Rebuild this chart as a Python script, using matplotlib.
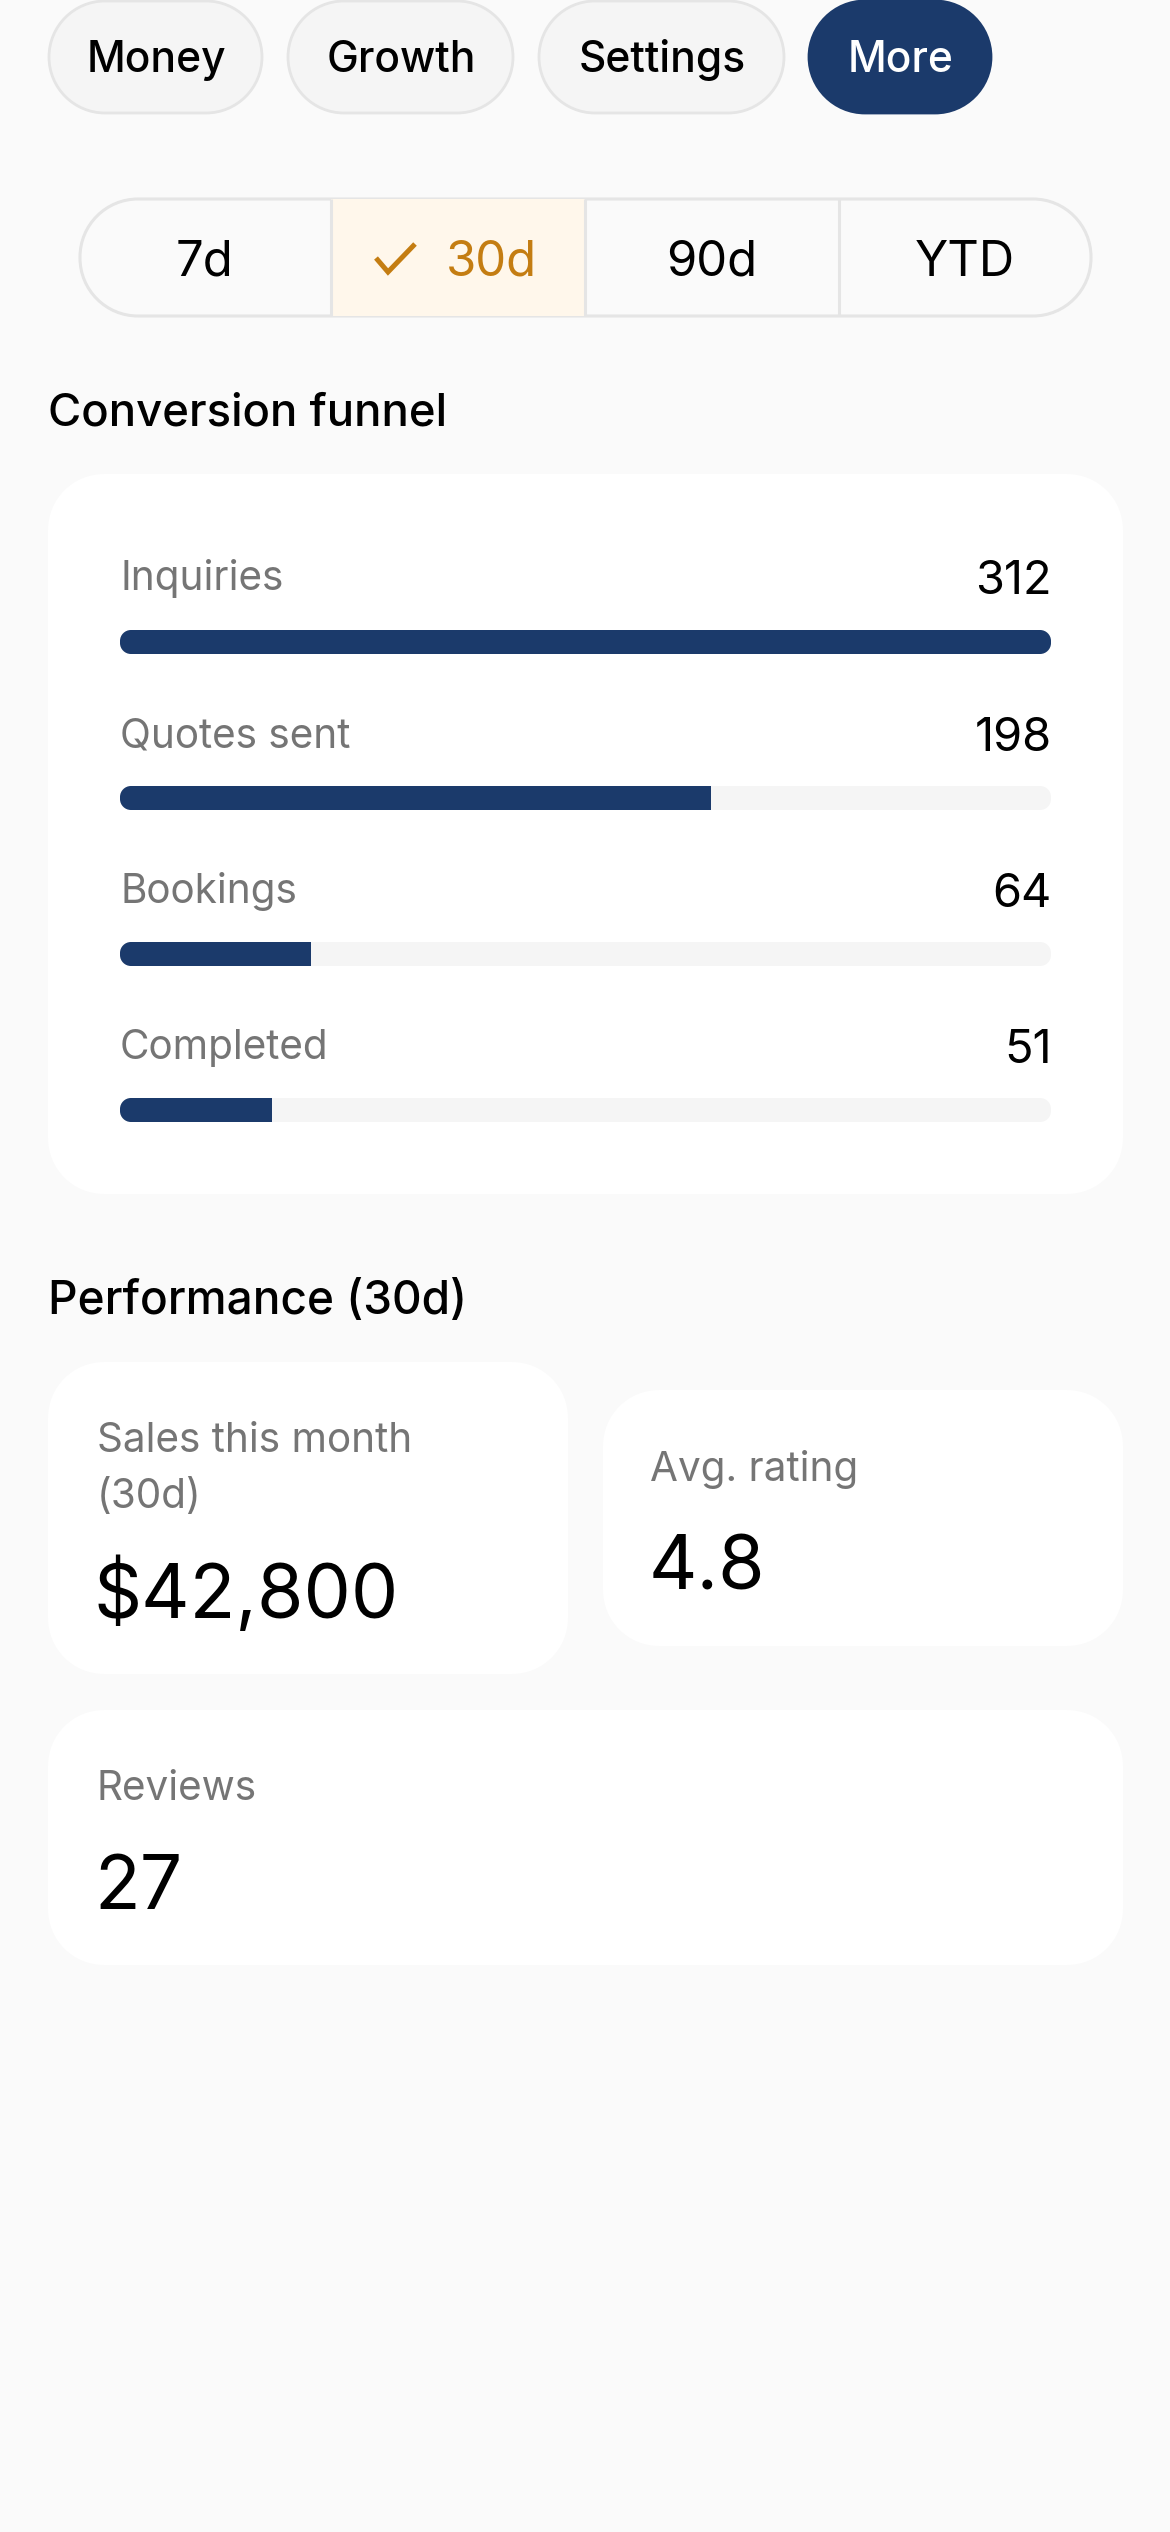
import matplotlib
matplotlib.use("Agg")
import matplotlib.pyplot as plt
from matplotlib.patches import PathPatch
from matplotlib.path import Path

# Data
tab_labels = ["Money", "Growth", "Settings", "More"]
range_labels = ["7d", "30d", "90d", "YTD"]
funnel_labels = ["Inquiries", "Quotes sent", "Bookings", "Completed"]
funnel_values = [312, 198, 64, 51]
sales_label = ["Sales this month", "(30d)"]
sales_value = "$42,800"
rating_label = "Avg. rating"
rating_value = "4.8"
reviews_label = "Reviews"
reviews_value = "27"

NAVY = "#1B3A6B"
BG = "#FAFAFA"
BORDER = "#E5E5E5"
TRACK = "#F5F5F5"
GREY = "#757575"
AMBER = "#C47D12"

plt.rcParams["font.family"] = ["Inter", "DejaVu Sans"]

fig = plt.figure(figsize=(11.7, 25.32), dpi=100, facecolor=BG)
ax = fig.add_axes([0, 0, 1, 1])
ax.set_xlim(0, 1170)
ax.set_ylim(2532, 0)
ax.axis("off")


def pt(px):
    return px * 0.72


def box(x0, y0, x1, y1, r, fc, ec="none", lw=0, z=1):
    # rounded rect with proper circular corners
    k = r * 0.5523
    verts = [(x0 + r, y0), (x1 - r, y0),
             (x1 - r + k, y0), (x1, y0 + r - k), (x1, y0 + r),
             (x1, y1 - r),
             (x1, y1 - r + k), (x1 - r + k, y1), (x1 - r, y1),
             (x0 + r, y1),
             (x0 + r - k, y1), (x0, y1 - r + k), (x0, y1 - r),
             (x0, y0 + r),
             (x0, y0 + r - k), (x0 + r - k, y0), (x0 + r, y0),
             (x0 + r, y0)]
    codes = [Path.MOVETO, Path.LINETO] + [Path.CURVE4] * 3 + [Path.LINETO] + [Path.CURVE4] * 3 \
        + [Path.LINETO] + [Path.CURVE4] * 3 + [Path.LINETO] + [Path.CURVE4] * 3 + [Path.CLOSEPOLY]
    p = PathPatch(Path(verts, codes), fc=fc, ec=ec, lw=lw, zorder=z)
    ax.add_patch(p)
    return p


def label(x, y, s, px, color="black", ha="left", weight="normal"):
    return ax.text(x, y, s, fontsize=pt(px), color=color, ha=ha, va="baseline",
                   fontweight=weight, zorder=5)


# top tabs
tab_x = [(49, 262), (288, 513), (539, 784), (809, 991)]
for s, (x0, x1) in zip(tab_labels, tab_x):
    on = s == "More"
    box(x0, 1, x1, 113, 56, NAVY if on else TRACK, NAVY if on else BORDER, 2)
    label((x0 + x1) / 2 + 1, 72, s, 42.5, "white" if on else "black", "center", "medium")

# range selector
outer = box(80, 199, 1091, 316, 58, BG, BORDER, 2.2)
sel = ax.bar(458, 117, width=254, bottom=199, color="#FFF7EB", zorder=2)[0]
sel.set_clip_path(outer)
for x in [331, 585, 839]:
    ax.plot([x, x], [199, 316], color=BORDER, lw=2.2, zorder=3, solid_capstyle="butt")
range_x = [205, 491, 712, 965]
for s, x in zip(range_labels, range_x):
    on = s == "30d"
    label(x, 276, s, 49, AMBER if on else "black", "center")
ax.plot([376, 388, 415], [258, 272, 244], color=AMBER, lw=3.6, zorder=5,
        solid_joinstyle="miter", solid_capstyle="butt")

# funnel
label(48, 426, "Conversion funnel", 45.5, weight="medium")
box(48, 474, 1123, 1194, 56, "white")
bar_y = [642, 798, 954, 1110]
label_y = [590, 747, 903, 1059]
value_y = [594, 751, 907, 1063]
for name, v, by, ly, vy in zip(funnel_labels, funnel_values, bar_y, label_y, value_y):
    label(120, ly, name, 40.5, GREY)
    label(1052, vy, str(v), 47, ha="right")
    track = box(120, by - 12, 1051, by + 12, 11, TRACK)
    b = ax.barh(by, 931 * v / max(funnel_values), height=24, left=120, color=NAVY, zorder=2)[0]
    b.set_clip_path(track)

# performance
label(48, 1314, "Performance (30d)", 46, weight="medium")
box(48, 1362, 568, 1674, 56, "white")
box(603, 1390, 1123, 1646, 56, "white")
box(48, 1710, 1123, 1965, 56, "white")
label(97, 1452, sales_label[0], 40.5, GREY)
label(97, 1508, sales_label[1], 40.5, GREY)
label(94, 1618, sales_value, 75)
label(650, 1481, rating_label, 40.5, GREY)
label(649, 1590, rating_value, 75)
label(96, 1800, reviews_label, 40.5, GREY)
label(94, 1909, reviews_value, 75)

fig.savefig("out.png", dpi=100, facecolor=BG)
